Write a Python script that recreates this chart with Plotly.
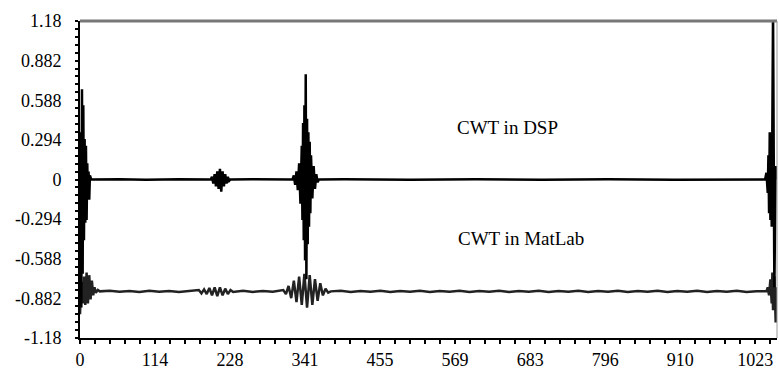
import plotly.graph_objects as go

# ---- data ----
dsp_x = [0, 1, 2, 3, 4, 5, 6, 7, 8, 9, 10, 11, 12, 13, 14, 15, 17,
         60, 100, 150, 198,
         200, 202, 204, 206, 208, 210, 212, 214, 216, 218, 220, 222, 224, 226, 228,
         260, 300, 322,
         324, 326, 328, 330, 332, 334, 336, 337, 338, 339, 340, 341, 342, 343, 344, 345,
         346, 347, 348, 349, 350, 352, 354, 356, 358, 360, 362,
         400, 500, 600, 700, 800, 900, 1000, 1038,
         1040, 1042, 1043, 1044, 1045, 1046, 1047, 1048, 1050, 1052, 1054, 1055]
dsp_y = [0.0, 0.35, -0.95, 0.67, -0.7, 0.55, -0.45, 0.3, -0.32, 0.25, -0.3, 0.12, -0.15, 0.06, -0.15, 0.03, 0.0,
         0.002, -0.002, 0.002, 0.0,
         0.02, -0.03, 0.04, -0.05, 0.06, -0.07, 0.08, -0.09, 0.06, -0.05, 0.04, -0.03, 0.02, -0.01, 0.0,
         0.002, -0.002, 0.0,
         0.03, -0.04, 0.06, -0.08, 0.12, -0.18, 0.25, -0.3, 0.42, -0.45, 0.55, -0.6, 0.78, -0.74, 0.45, -0.48,
         0.35, -0.35, 0.28, -0.25, 0.18, -0.14, 0.1, -0.07, 0.04, -0.02, 0.0,
         0.002, -0.002, 0.002, -0.002, 0.002, -0.002, 0.002, 0.0,
         0.05, -0.1, 0.18, -0.25, 0.35, -0.3, 0.25, -0.35, 1.25, -0.8, 0.1, 0.0]

mat_x = [0, 2, 4, 6, 8, 10, 12, 14, 16, 18, 20, 22, 24, 27, 30,
         45, 60, 75, 90, 105, 120, 135, 150, 165,
         180, 184, 188, 192, 196, 200, 204, 208, 212, 216, 220, 224, 228, 232,
         247, 262, 277, 292,
         308, 312, 316, 320, 324, 328, 332, 336, 340, 344, 348, 352, 356, 360, 364, 368, 372, 376, 380,
         395, 410, 425, 440, 455, 470, 485, 500, 515, 530, 545, 560, 575, 590, 605, 620,
         635, 650, 665, 680, 695, 710, 725, 740, 755, 770, 785, 800, 815, 830, 845, 860,
         875, 890, 905, 920, 935, 950, 965, 980, 995, 1010, 1025,
         1040, 1042, 1044, 1046, 1048, 1049, 1050, 1052, 1054, 1055]
mat_y = [-1.0, -0.76, -0.92, -0.72, -0.93, -0.69, -0.92, -0.71, -0.89, -0.75, -0.86, -0.8, -0.84, -0.82, -0.83,
         -0.826, -0.833, -0.827, -0.834, -0.826, -0.833, -0.828, -0.834, -0.826,
         -0.82, -0.845, -0.815, -0.85, -0.805, -0.86, -0.80, -0.865, -0.80, -0.86, -0.81, -0.85, -0.82, -0.835,
         -0.826, -0.834, -0.827, -0.833,
         -0.82, -0.85, -0.79, -0.88, -0.75, -0.91, -0.72, -0.93, -0.70, -0.95, -0.71, -0.93, -0.74, -0.90, -0.77, -0.86, -0.81, -0.84, -0.83,
         -0.826, -0.834, -0.827, -0.833, -0.826, -0.834, -0.827, -0.833, -0.826, -0.834, -0.827, -0.833, -0.826, -0.834, -0.827, -0.833,
         -0.826, -0.834, -0.827, -0.833, -0.826, -0.834, -0.827, -0.833, -0.826, -0.834, -0.827, -0.833, -0.826, -0.834, -0.827, -0.833,
         -0.826, -0.834, -0.827, -0.833, -0.826, -0.834, -0.827, -0.833, -0.826, -0.834, -0.83,
         -0.83, -0.80, -0.86, -0.74, -0.92, -0.69, -0.97, -0.72, -1.06, -0.8]

x_tickvals = [0, 113.667, 227.333, 341, 454.667, 568.333, 682, 795.667, 909.333, 1023]
x_ticktext = ["0", "114", "228", "341", "455", "569", "683", "796", "910", "1023"]
y_tickvals = [1.176, 0.882, 0.588, 0.294, 0, -0.294, -0.588, -0.882, -1.176]
y_ticktext = ["1.18", "0.882", "0.588", "0.294", "0", "-0.294", "-0.588", "-0.882", "-1.18"]

labels = ["CWT in DSP", "CWT in MatLab"]
label_x = [647, 668]
label_y = [0.386, -0.44]

FONT = "Liberation Serif"

fig = go.Figure()
fig.add_trace(go.Scatter(x=mat_x, y=mat_y, mode="lines",
                         line=dict(color="#222222", width=2.5), showlegend=False))
fig.add_trace(go.Scatter(x=dsp_x, y=dsp_y, mode="lines",
                         line=dict(color="#000000", width=2.5), showlegend=False))

for t, xx, yy in zip(labels, label_x, label_y):
    fig.add_annotation(x=xx, y=yy, text=t, showarrow=False,
                       font=dict(family=FONT, size=19, color="#000"))

fig.update_layout(
    width=779, height=371,
    margin=dict(l=80, r=2, t=21, b=33),
    paper_bgcolor="white", plot_bgcolor="white",
    font=dict(family=FONT, size=18, color="#000"),
    xaxis=dict(range=[0, 1056], tickvals=x_tickvals, ticktext=x_ticktext,
               showgrid=False, zeroline=False, showline=True, linecolor="#000", linewidth=2,
               ticks="outside", ticklen=4, tickcolor="#000", tickwidth=1.5,
               minor=dict(ticks="outside", ticklen=4, tickcolor="#000", dtick=22.733, tick0=0),
               tickfont=dict(family=FONT, size=18)),
    yaxis=dict(range=[-1.176, 1.176], tickvals=y_tickvals, ticktext=y_ticktext,
               showgrid=False, zeroline=False, showline=True, linecolor="#000", linewidth=2,
               ticks="outside", ticklen=3, tickcolor="#000", tickwidth=1.5,
               minor=dict(ticks="outside", ticklen=3, tickcolor="#000", dtick=0.0588, tick0=0),
               ticklabelstandoff=10,
               tickfont=dict(family=FONT, size=18)),
    shapes=[
        dict(type="line", xref="paper", yref="paper", x0=0, x1=1, y0=1, y1=1,
             line=dict(color="#777", width=3)),
        dict(type="line", xref="paper", yref="paper", x0=1, x1=1, y0=0, y1=1,
             line=dict(color="#999", width=1)),
    ],
)

fig.write_html("out.html", config={"displayModeBar": False},
               post_script="document.body.style.margin='0';")
